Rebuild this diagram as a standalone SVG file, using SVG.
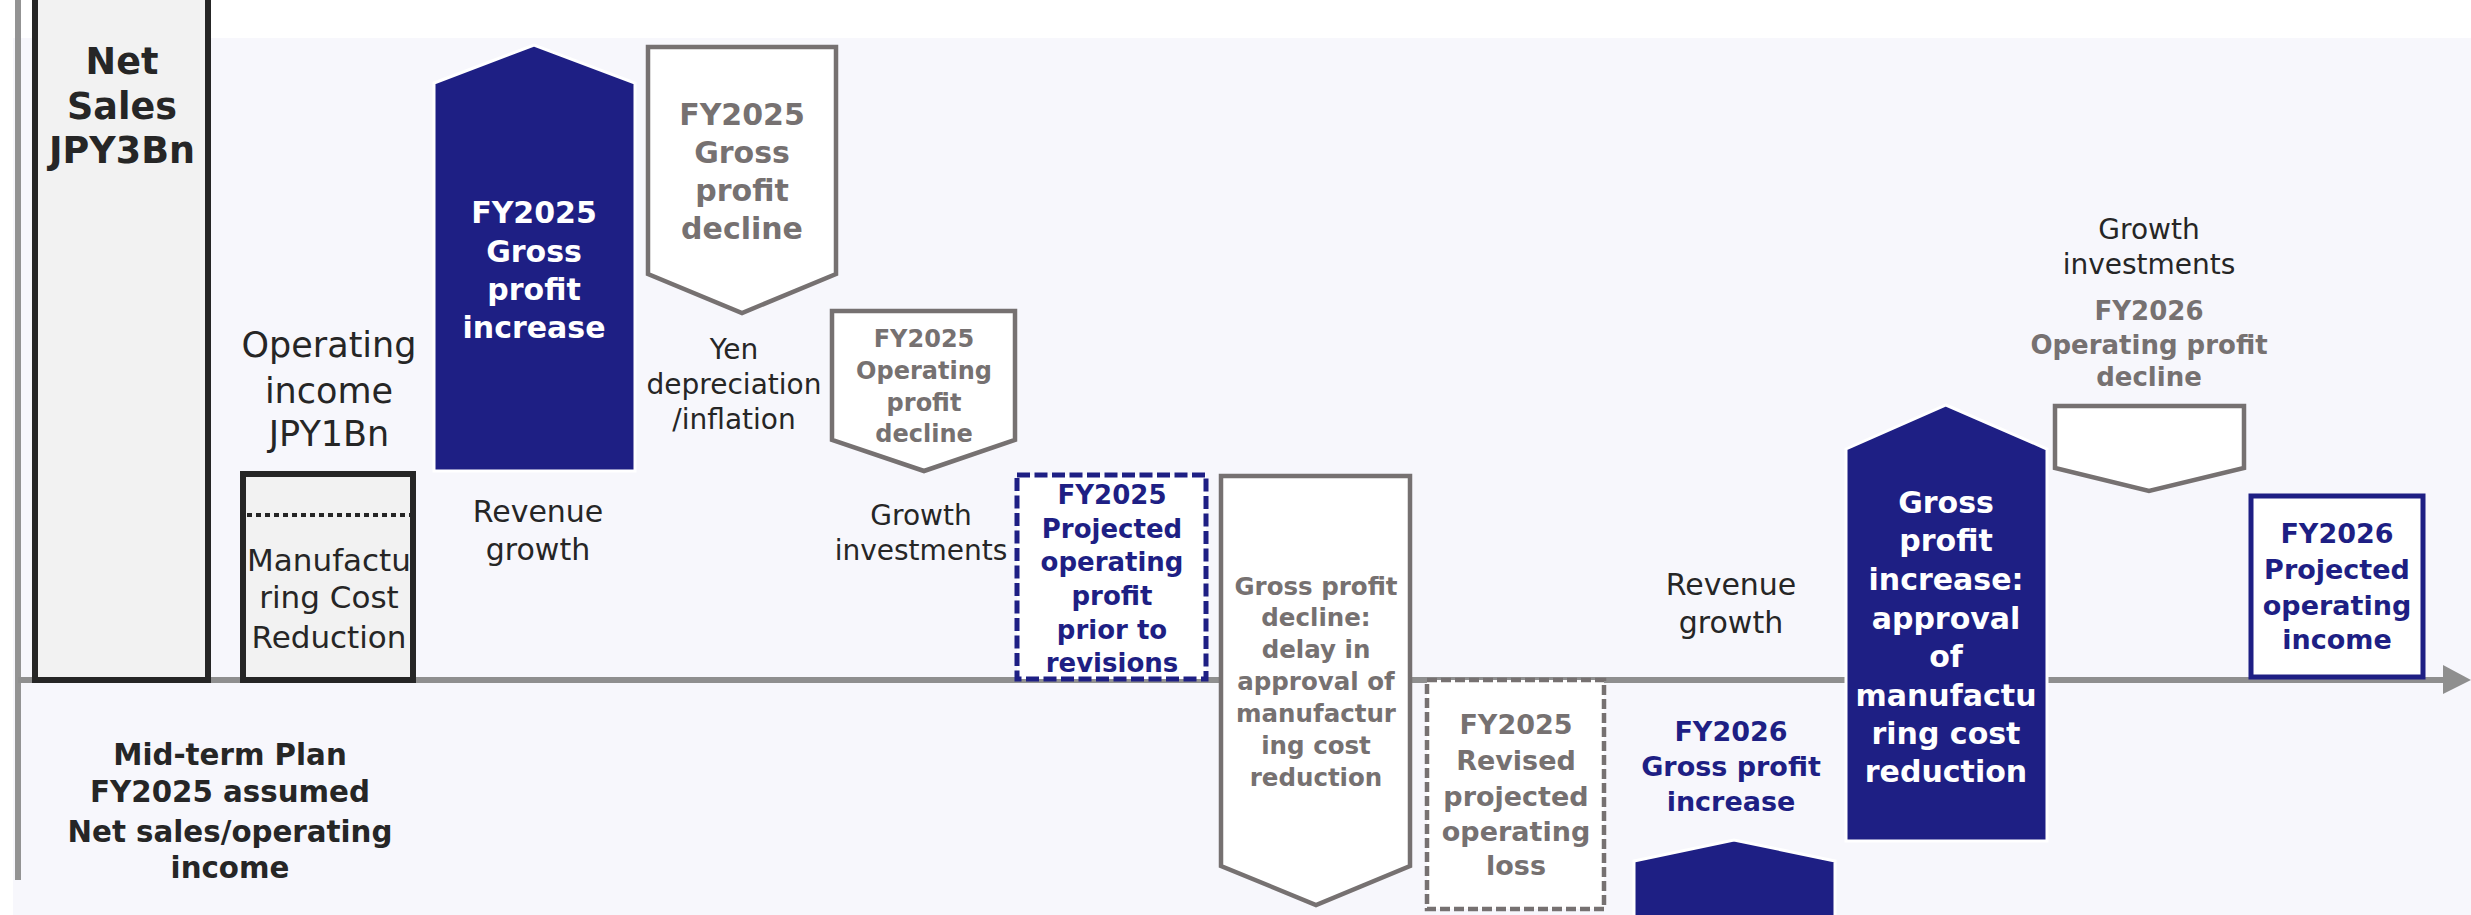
<svg xmlns="http://www.w3.org/2000/svg" width="2471" height="915" viewBox="0 0 2471 915">
<style>
text{font-family:"DejaVu Sans","Verdana",sans-serif;text-anchor:middle}
.r{fill:#262626;font-weight:normal}
.b{fill:#262626;font-weight:bold}
.g{fill:#767171;font-weight:bold}
.n{fill:#1e1f84;font-weight:bold}
.w{fill:#ffffff;font-weight:bold}
.up{fill:#1e1f84;stroke:#ffffff;stroke-width:3}
.dn{fill:#ffffff;stroke:#767171;stroke-width:4.5}
</style>
<rect x="0" y="0" width="2471" height="915" fill="#ffffff"/>
<rect x="13" y="38" width="2458" height="877" fill="#F7F7FC"/>
<g id="connectors">
<line x1="18" y1="0" x2="18" y2="880" stroke="#939393" stroke-width="6"/>
<line x1="18" y1="680" x2="2446" y2="680" stroke="#8f8f8f" stroke-width="6"/>
<polygon points="2443,665 2471,680 2443,694" fill="#8f8f8f"/>
</g>
<g id="net-sales">
<rect x="35" y="-3" width="173" height="683" fill="#F2F2F2" stroke="#262626" stroke-width="6"/>
<text class="b" font-size="36.5"><tspan x="122" y="74">Net</tspan><tspan x="122" y="119">Sales</tspan><tspan x="122" y="163">JPY3Bn</tspan></text>
</g>
<g id="operating-income">
<text class="r" font-size="35"><tspan x="329" y="357">Operating</tspan><tspan x="329" y="403">income</tspan><tspan x="329" y="446">JPY1Bn</tspan></text>
<rect x="243" y="474" width="170" height="206" fill="#F2F2F2" stroke="#262626" stroke-width="6"/>
<line x1="247" y1="515" x2="410" y2="515" stroke="#262626" stroke-width="4" stroke-dasharray="5 4"/>
<text class="r" font-size="31"><tspan x="329" y="571">Manufactu</tspan><tspan x="329" y="608">ring Cost</tspan><tspan x="329" y="648">Reduction</tspan></text>
</g>
<g id="fy2025-gross-increase">
<polygon class="up" points="434,83 534,45 635,83 635,471 434,471"/>
<text class="w" font-size="30"><tspan x="534" y="223">FY2025</tspan><tspan x="534" y="262">Gross</tspan><tspan x="534" y="300">profit</tspan><tspan x="534" y="338">increase</tspan></text>
<text class="r" font-size="30"><tspan x="538" y="522">Revenue</tspan><tspan x="538" y="560">growth</tspan></text>
</g>
<g id="fy2025-gross-decline">
<polygon class="dn" points="648,47 836,47 836,274 742,313 648,274"/>
<text class="g" font-size="30"><tspan x="742" y="125">FY2025</tspan><tspan x="742" y="163">Gross</tspan><tspan x="742" y="201">profit</tspan><tspan x="742" y="239">decline</tspan></text>
<text class="r" font-size="28"><tspan x="734" y="359">Yen</tspan><tspan x="734" y="394">depreciation</tspan><tspan x="734" y="429">/inflation</tspan></text>
</g>
<g id="fy2025-op-decline">
<polygon class="dn" points="832,311 1015,311 1015,440 924,471 832,440"/>
<text class="g" font-size="24"><tspan x="924" y="347">FY2025</tspan><tspan x="924" y="379">Operating</tspan><tspan x="924" y="411">profit</tspan><tspan x="924" y="442">decline</tspan></text>
<text class="r" font-size="28"><tspan x="921" y="525">Growth</tspan><tspan x="921" y="560">investments</tspan></text>
</g>
<g id="fy2025-projected">
<rect x="1017" y="475" width="189" height="204" fill="#ffffff" stroke="#1e1f84" stroke-width="5" stroke-dasharray="13 4.5"/>
<text class="n" font-size="26"><tspan x="1112" y="504">FY2025</tspan><tspan x="1112" y="538">Projected</tspan><tspan x="1112" y="571">operating</tspan><tspan x="1112" y="605">profit</tspan><tspan x="1112" y="639">prior to</tspan><tspan x="1112" y="672">revisions</tspan></text>
</g>
<g id="gross-decline-delay">
<polygon class="dn" points="1221,476 1410,476 1410,866 1316,905 1221,866"/>
<text class="g" font-size="24.5"><tspan x="1316" y="595">Gross profit</tspan><tspan x="1316" y="626">decline:</tspan><tspan x="1316" y="658">delay in</tspan><tspan x="1316" y="690">approval of</tspan><tspan x="1316" y="722">manufactur</tspan><tspan x="1316" y="754">ing cost</tspan><tspan x="1316" y="786">reduction</tspan></text>
</g>
<g id="fy2025-revised">
<rect x="1427" y="680" width="177" height="229" fill="#ffffff" stroke="#767171" stroke-width="4.5" stroke-dasharray="10 4"/>
<text class="g" font-size="27"><tspan x="1516" y="734">FY2025</tspan><tspan x="1516" y="770">Revised</tspan><tspan x="1516" y="806">projected</tspan><tspan x="1516" y="841">operating</tspan><tspan x="1516" y="875">loss</tspan></text>
</g>
<g id="fy2026-gross-increase">
<text class="r" font-size="30"><tspan x="1731" y="595">Revenue</tspan><tspan x="1731" y="633">growth</tspan></text>
<text class="n" font-size="27"><tspan x="1731" y="741">FY2026</tspan><tspan x="1731" y="776">Gross profit</tspan><tspan x="1731" y="811">increase</tspan></text>
<polygon class="up" points="1634,861 1734,840 1835,861 1835,920 1634,920"/>
</g>
<g id="gross-increase-approval">
<polygon class="up" points="1846,449 1946,405 2047,449 2047,841 1846,841"/>
<text class="w" font-size="30"><tspan x="1946" y="513">Gross</tspan><tspan x="1946" y="551">profit</tspan><tspan x="1946" y="590">increase:</tspan><tspan x="1946" y="629">approval</tspan><tspan x="1946" y="667">of</tspan><tspan x="1946" y="706">manufactu</tspan><tspan x="1946" y="744">ring cost</tspan><tspan x="1946" y="782">reduction</tspan></text>
</g>
<g id="fy2026-op-decline">
<text class="r" font-size="28"><tspan x="2149" y="239">Growth</tspan><tspan x="2149" y="274">investments</tspan></text>
<text class="g" font-size="26"><tspan x="2149" y="320">FY2026</tspan><tspan x="2149" y="354">Operating profit</tspan><tspan x="2149" y="386">decline</tspan></text>
<polygon class="dn" points="2055,406 2244,406 2244,468 2149,491 2055,468"/>
</g>
<g id="fy2026-projected">
<rect x="2251" y="496" width="172" height="181" fill="#ffffff" stroke="#1e1f84" stroke-width="5"/>
<text class="n" font-size="27"><tspan x="2337" y="543">FY2026</tspan><tspan x="2337" y="579">Projected</tspan><tspan x="2337" y="615">operating</tspan><tspan x="2337" y="649">income</tspan></text>
</g>
<g id="mid-term-plan">
<text class="b" font-size="29.3"><tspan x="230" y="765">Mid-term Plan</tspan><tspan x="230" y="802">FY2025 assumed</tspan><tspan x="230" y="842">Net sales/operating</tspan><tspan x="230" y="878">income</tspan></text>
</g>
</svg>
